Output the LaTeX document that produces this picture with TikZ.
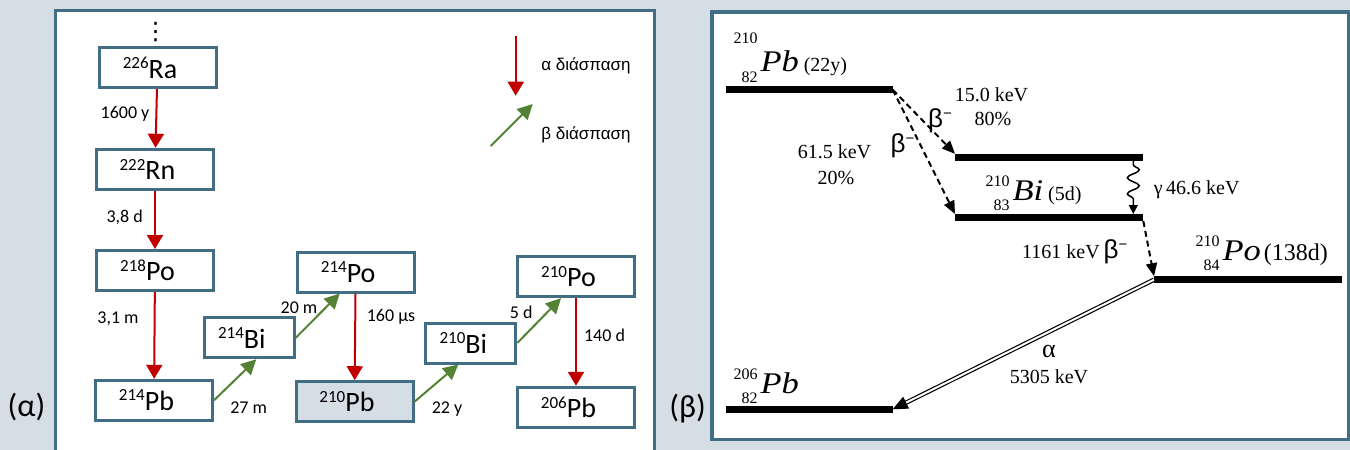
\documentclass[tikz,border=0pt]{standalone}
\usepackage{fontspec}
\usepackage{graphicx}
\setmainfont{Carlito}
\newfontfamily\arialf{Liberation Sans}
\newfontfamily\timesf{Liberation Serif}
\newfontfamily\dejavuf{DejaVu Sans}
\usetikzlibrary{arrows.meta, decorations.pathmorphing}

\definecolor{panelbg}{RGB}{214,222,229}
\definecolor{frameblue}{RGB}{66,110,133}
\definecolor{alphared}{RGB}{192,0,0}
\definecolor{betagreen}{RGB}{84,130,53}

% left panel: mass number as superscript
\newcommand{\iso}[2]{\raisebox{9.5pt}{\fontsize{17}{17}\selectfont #1}#2\kern15pt}
% right panel: stacked mass and atomic number
\newcommand{\nuc}[4][13.5pt]{{\fontsize{16}{16}\selectfont\ooalign{\hfil\raisebox{#1}{#2}\cr\hfil\raisebox{-10.5pt}{#3}\cr}}\kern3pt\scalebox{1.15}[1]{\fontsize{30}{30}\selectfont\itshape #4}}
\newcommand{\betam}{{\arialf\fontsize{26}{26}\selectfont β\raisebox{9pt}{\fontsize{15}{15}\selectfont −}}}

\tikzset{
  nucbox/.style={draw=frameblue, line width=3pt, fill=white, minimum width=117pt, minimum height=40pt, inner sep=0pt, font=\fontsize{28}{28}\selectfont},
  halfbox/.style={nucbox, minimum width=90pt},
  halflife/.style={font=\fontsize{18}{18}\selectfont, inner sep=0pt},
  legendtxt/.style={font=\arialf\fontsize{17}{17}\selectfont, inner sep=0pt},
  alphadecay/.style={alphared, line width=2pt, -{Triangle[length=14pt, width=16pt]}},
  betadecay/.style={betagreen, line width=2pt, -{Triangle[length=15pt, width=15pt]}},
  energylevel/.style={line width=7pt},
  betaline/.style={line width=2pt, dash pattern=on 6pt off 4pt, -{Triangle[length=13pt, width=11pt]}},
  gammaline/.style={line width=1.5pt, -{Triangle[length=9pt, width=9pt]}, decorate, decoration={snake, amplitude=6pt, segment length=16pt, pre length=4pt, post length=10pt}},
  alphaline/.style={double, double distance=2pt, line width=1.2pt, -{Triangle[length=15pt, width=13pt]}},
  lbl/.style={font=\timesf\fontsize{20}{20}\selectfont, inner sep=0pt},
  nuclab/.style={font=\timesf, anchor=base west, inner sep=0pt},
  panellab/.style={font=\fontsize{32}{32}\selectfont, inner sep=0pt}
}

\begin{document}
\begin{tikzpicture}[x=1pt, y=-1pt, line width=1pt]
  \useasboundingbox (0,0) rectangle (1350,450);
  \fill[panelbg] (0,0) rectangle (1350,450);

  % (a) decay chain
  \draw[frameblue, line width=3pt, fill=white] (55.5,10.5) rectangle (654,460);
  \node[panellab] (lblA) at (26.5,407) {(α)};
  \node[font=\dejavuf\fontsize{24}{24}\selectfont, inner sep=0pt] (dots) at (155.7,32) {⋮};
  \node[nucbox] (ra) at (157.5,67.7) {\iso{226}{Ra}};
  \node[nucbox] (rn) at (155,169.3) {\iso{222}{Rn}};
  \node[nucbox] (po218) at (155,270.5) {\iso{218}{Po}};
  \node[nucbox] (pb214) at (154,400.3) {\iso{214}{Pb}};
  \node[halfbox] (bi214) at (249.3,337.8) {\iso{214}{Bi}};
  \node[nucbox] (po214) at (355.7,272) {\iso{214}{Po}};
  \node[nucbox, fill=panelbg] (pb210) at (354.5,401.7) {\iso{210}{Pb}};
  \node[halfbox] (bi210) at (470.8,343) {\iso{210}{Bi}};
  \node[nucbox] (po210) at (576,276.7) {\iso{210}{Po}};
  \node[nucbox] (pb206) at (576,407.3) {\iso{206}{Pb}};

  \draw[alphadecay] (ra) -- (rn);
  \draw[alphadecay] (rn) -- (po218);
  \draw[alphadecay] (po218) -- (pb214);
  \draw[alphadecay] (po214) -- (pb210);
  \draw[alphadecay] (po210) -- (pb206);
  \draw[betadecay] (pb214.east) -- ([xshift=7pt]bi214.south);
  \draw[betadecay] (bi214.east) -- ([xshift=-16pt]po214.south);
  \draw[betadecay] (pb210.east) -- ([xshift=-12.5pt]bi210.south);
  \draw[betadecay] (bi210.east) -- ([xshift=-15pt]po210.south);

  \node[halflife] (t1) at (125,114) {1600 y};
  \node[halflife] (t2) at (124.7,217) {3,8 d};
  \node[halflife] (t3) at (118,319) {3,1 m};
  \node[halflife] (t4) at (248.7,408) {27 m};
  \node[halflife] (t5) at (299,307.7) {20 m};
  \node[halflife] (t6) at (391,316.7) {160 μs};
  \node[halflife] (t7) at (447,409) {22 y};
  \node[halflife] (t8) at (521.3,312.7) {5 d};
  \node[halflife] (t9) at (604.5,335) {140 d};

  % legend
  \coordinate (atop) at (515.7,36);
  \coordinate (abot) at (515.7,95.7);
  \draw[alphadecay] (atop) -- (abot);
  \node[legendtxt] (alab) at (586,65.7) {α διάσπαση};
  \coordinate (bfrom) at (490.7,146);
  \coordinate (bto) at (532.7,104);
  \draw[betadecay] (bfrom) -- (bto);
  \node[legendtxt] (blab) at (586,135) {β διάσπαση};

  % (b) level scheme
  \draw[frameblue, line width=3.5pt, fill=white] (712,12) rectangle (1348.5,439.5);
  \node[panellab] (lblB) at (687.6,409) {(β)};

  \coordinate (pbA) at (726,89.7);    \coordinate (pbB) at (892.7,89.7);
  \coordinate (biA) at (955,157.3);   \coordinate (biB) at (1143.3,157.3);
  \coordinate (biC) at (955,217.5);   \coordinate (biD) at (1143.3,217.5);
  \coordinate (poA) at (1154,279.7);  \coordinate (poB) at (1341.7,279.7);
  \coordinate (pbE) at (726,409.3);   \coordinate (pbF) at (892.7,409.3);
  \draw[energylevel] (pbA) -- (pbB);
  \draw[energylevel] (biA) -- (biB);
  \draw[energylevel] (biC) -- (biD);
  \draw[energylevel] (poA) -- (poB);
  \draw[energylevel] (pbE) -- (pbF);

  \draw[betaline] (pbB) -- ([yshift=3.5pt]biA);
  \draw[betaline] (pbB) -- ([yshift=3.5pt]biC);
  \draw[gammaline] ([xshift=-10pt, yshift=-3.5pt]biB) -- ([xshift=-10pt, yshift=3.5pt]biD);
  \draw[betaline] ([yshift=-3.5pt]biD) -- ([yshift=3.5pt]poA);
  \draw[alphaline] (poA) -- (pbF);

  \node[nuclab] (pbtop) at (733,71.7) {\nuc[28.4pt]{210}{82}{Pb}\hspace{5pt}{\fontsize{20}{20}\selectfont(22y)}};
  \node[nuclab] (bimid) at (985,200) {\nuc{210}{83}{Bi}\hspace{5pt}{\fontsize{20}{20}\selectfont(5d)}};
  \node[nuclab] (pomid) at (1195,260) {\nuc{210}{84}{Po}\hspace{3pt}{\fontsize{24}{24}\selectfont(138d)}};
  \node[nuclab] (pbbot) at (733,393) {\nuc{206}{82}{Pb}};

  \node[lbl] (e15) at (991.5,95) {15.0 keV};
  \node[lbl] (p80) at (993,119) {80\%};
  \node[lbl] (e61) at (834.5,152) {61.5 keV};
  \node[lbl] (p20) at (836,178) {20\%};
  \node[inner sep=0pt] (b1) at (940,121) {\betam};
  \node[inner sep=0pt] (b2) at (902.5,146) {\betam};
  \node[lbl] (e46) at (1196.7,190) {γ\,46.6 keV};
  \node[lbl] (e1161) at (1061,252) {1161 keV};
  \node[inner sep=0pt] (b3) at (1115.5,252) {\betam};
  \node[lbl, font=\timesf\fontsize{26}{26}\selectfont] (alab2) at (1049,351.7) {α};
  \node[lbl] (e5305) at (1049,377) {5305 keV};
\end{tikzpicture}
\end{document}
